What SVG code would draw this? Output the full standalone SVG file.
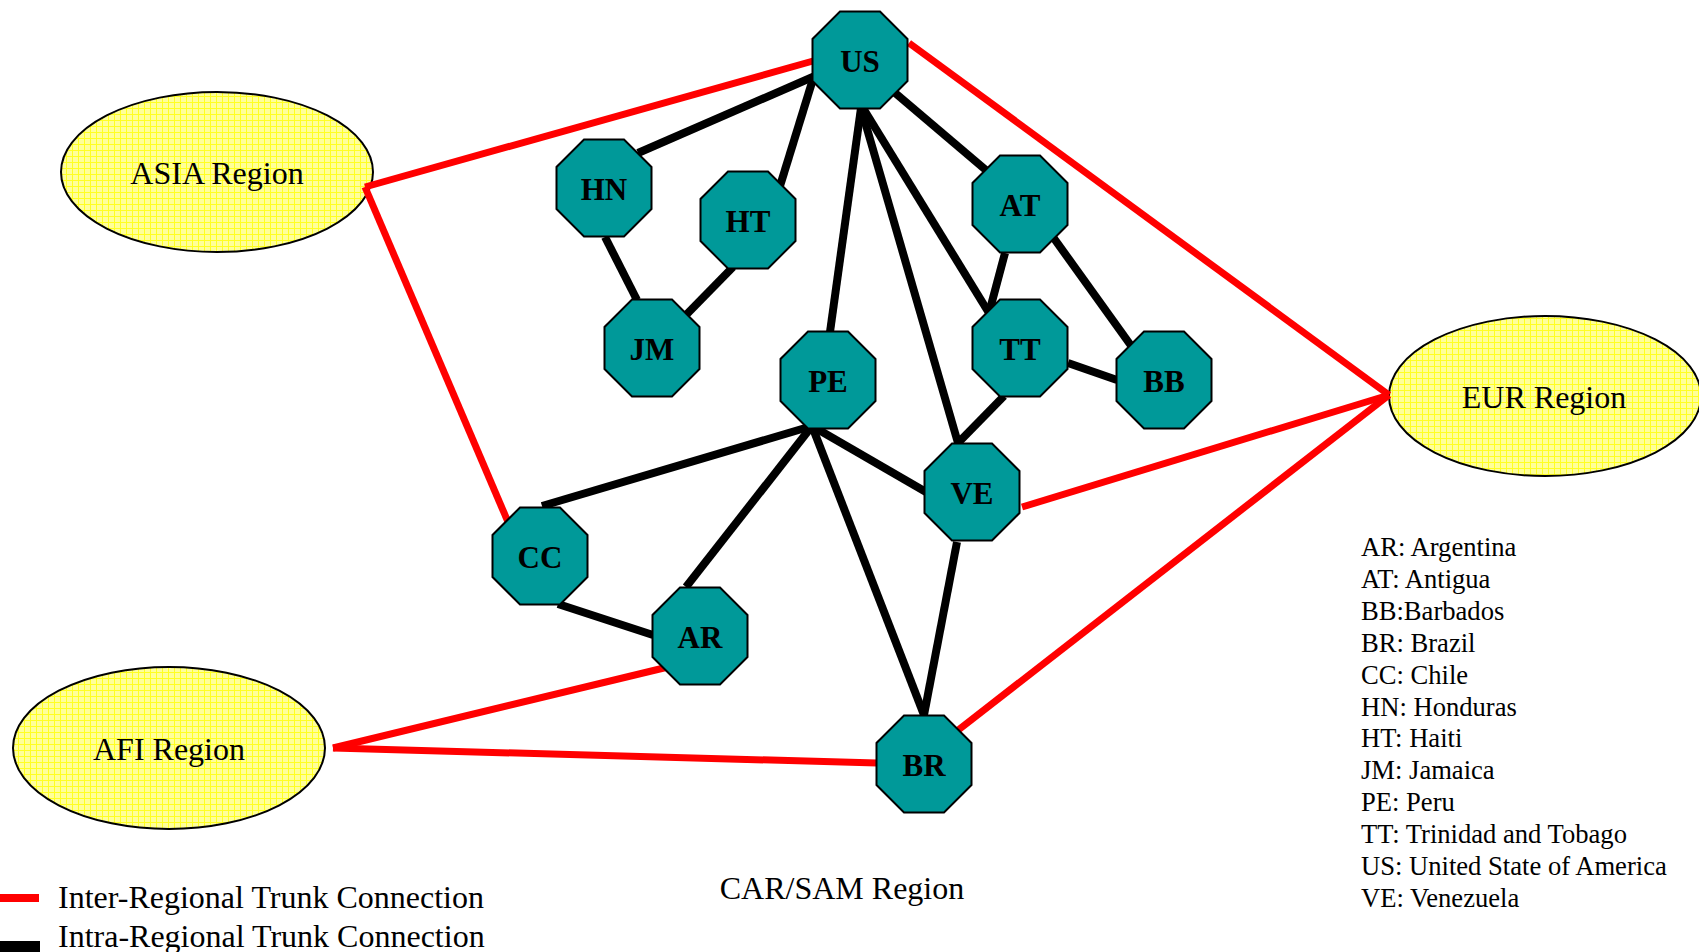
<svg xmlns="http://www.w3.org/2000/svg" xmlns:xlink="http://www.w3.org/1999/xlink" width="1699" height="952" viewBox="0 0 1699 952">
<defs>
<pattern id="grid" width="6" height="6" patternUnits="userSpaceOnUse">
<rect width="6" height="6" fill="#ffff99"/>
<path d="M0 0.5H6M0.5 0V6" stroke="#ffff22" stroke-width="1"/>
</pattern>
<polygon id="oct" points="-20,-48.5 20,-48.5 47.5,-21 47.5,21 20,48.5 -20,48.5 -47.5,21 -47.5,-21"/>
</defs>
<style>
.oct{fill:#009999;stroke:#000;stroke-width:2}
.reg{fill:url(#grid);stroke:#000;stroke-width:2}
.nl{font-family:"Liberation Serif",serif;font-weight:bold;font-size:31px;text-anchor:middle;fill:#000}
.rl{font-family:"Liberation Serif",serif;font-size:32px;text-anchor:middle;fill:#000}
.lg{font-family:"Liberation Serif",serif;font-size:26.6px;fill:#000}
.lg2{font-family:"Liberation Serif",serif;font-size:32px;fill:#000}
.red{stroke:#ff0000;stroke-width:7;fill:none}
.blk{stroke:#000;stroke-width:8;fill:none}
</style>
<rect width="1699" height="952" fill="#fff"/>
<g id="regions">
<g id="asia"><ellipse class="reg" cx="217" cy="172" rx="156" ry="80"/><text class="rl" x="217" y="184">ASIA Region</text></g>
<g id="eur"><ellipse class="reg" cx="1545" cy="396" rx="156" ry="80"/><text class="rl" x="1544" y="408">EUR Region</text></g>
<g id="afi"><ellipse class="reg" cx="169" cy="748" rx="156" ry="81"/><text class="rl" x="169" y="760">AFI Region</text></g>
</g>
<g id="connectors">
<line class="red" x1="813" y1="61" x2="365" y2="187"/>
<line class="red" x1="365" y1="187" x2="508" y2="522"/>
<line class="red" x1="909" y1="43" x2="1389" y2="395"/>
<line class="red" x1="1022" y1="507" x2="1389" y2="395"/>
<line class="red" x1="957" y1="731" x2="1389" y2="395"/>
<line class="red" x1="333" y1="748" x2="668" y2="667"/>
<line class="red" x1="333" y1="748" x2="877" y2="763"/>
<line class="blk" x1="815" y1="76" x2="638" y2="153"/>
<line class="blk" x1="813" y1="79" x2="780" y2="186"/>
<line class="blk" x1="861" y1="108" x2="830" y2="332"/>
<line class="blk" x1="861" y1="108" x2="958" y2="443"/>
<line class="blk" x1="863" y1="108" x2="989" y2="313"/>
<line class="blk" x1="894" y1="92" x2="987" y2="171"/>
<line class="blk" x1="605" y1="237" x2="637" y2="300"/>
<line class="blk" x1="733" y1="267" x2="686" y2="315"/>
<line class="blk" x1="1005" y1="253" x2="989" y2="313"/>
<line class="blk" x1="1053" y1="237" x2="1132" y2="347"/>
<line class="blk" x1="1068" y1="363" x2="1117" y2="380"/>
<line class="blk" x1="1004" y1="396" x2="958" y2="443"/>
<line class="blk" x1="812" y1="426" x2="542" y2="506"/>
<line class="blk" x1="812" y1="426" x2="686" y2="587"/>
<line class="blk" x1="812" y1="426" x2="926" y2="492"/>
<line class="blk" x1="812" y1="426" x2="924" y2="715"/>
<line class="blk" x1="558" y1="604" x2="653" y2="635"/>
<line class="blk" x1="957" y1="542" x2="924" y2="715"/>
</g>
<g id="US"><use xlink:href="#oct" class="oct" x="860" y="60"/><text class="nl" x="860" y="72">US</text></g>
<g id="HN"><use xlink:href="#oct" class="oct" x="604" y="188"/><text class="nl" x="604" y="200">HN</text></g>
<g id="HT"><use xlink:href="#oct" class="oct" x="748" y="220"/><text class="nl" x="748" y="232">HT</text></g>
<g id="JM"><use xlink:href="#oct" class="oct" x="652" y="348"/><text class="nl" x="652" y="360">JM</text></g>
<g id="PE"><use xlink:href="#oct" class="oct" x="828" y="380"/><text class="nl" x="828" y="392">PE</text></g>
<g id="AT"><use xlink:href="#oct" class="oct" x="1020" y="204"/><text class="nl" x="1020" y="216">AT</text></g>
<g id="TT"><use xlink:href="#oct" class="oct" x="1020" y="348"/><text class="nl" x="1020" y="360">TT</text></g>
<g id="BB"><use xlink:href="#oct" class="oct" x="1164" y="380"/><text class="nl" x="1164" y="392">BB</text></g>
<g id="VE"><use xlink:href="#oct" class="oct" x="972" y="492"/><text class="nl" x="972" y="504">VE</text></g>
<g id="CC"><use xlink:href="#oct" class="oct" x="540" y="556"/><text class="nl" x="540" y="568">CC</text></g>
<g id="AR"><use xlink:href="#oct" class="oct" x="700" y="636"/><text class="nl" x="700" y="648">AR</text></g>
<g id="BR"><use xlink:href="#oct" class="oct" x="924" y="764"/><text class="nl" x="924" y="776">BR</text></g>
<g id="abbrev">
<text class="lg" x="1361" y="556">AR: Argentina</text>
<text class="lg" x="1361" y="588">AT: Antigua</text>
<text class="lg" x="1361" y="620">BB:Barbados</text>
<text class="lg" x="1361" y="652">BR: Brazil</text>
<text class="lg" x="1361" y="684">CC: Chile</text>
<text class="lg" x="1361" y="716">HN: Honduras</text>
<text class="lg" x="1361" y="747">HT: Haiti</text>
<text class="lg" x="1361" y="779">JM: Jamaica</text>
<text class="lg" x="1361" y="811">PE: Peru</text>
<text class="lg" x="1361" y="843">TT: Trinidad and Tobago</text>
<text class="lg" x="1361" y="875">US: United State of America</text>
<text class="lg" x="1361" y="907">VE: Venezuela</text>
</g>
<text class="rl" x="842" y="899">CAR/SAM Region</text>
<g id="legend">
<rect x="0" y="894" width="39" height="8" fill="#ff0000"/>
<rect x="0" y="941" width="40" height="12" fill="#000"/>
<text class="lg2" x="58" y="908">Inter-Regional Trunk Connection</text>
<text class="lg2" x="58" y="947">Intra-Regional Trunk Connection</text>
</g>
</svg>
